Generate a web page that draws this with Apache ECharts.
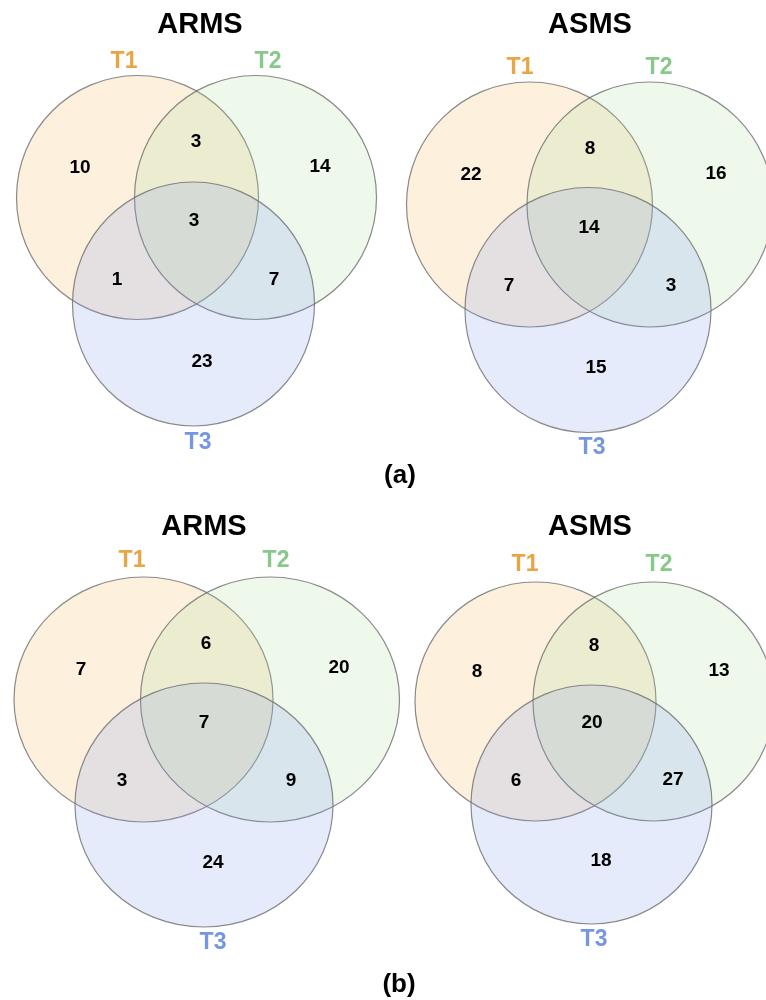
<!DOCTYPE html>
<html>
<head>
<meta charset="utf-8">
<script src="https://cdn.jsdelivr.net/npm/echarts@6/dist/echarts.min.js"></script>
<style>
  html, body { margin: 0; padding: 0; background: #ffffff; }
  #chart { width: 766px; height: 1000px; }
</style>
</head>
<body>
<div id="chart"></div>
<script>
// Sets and overlap regions (order of the count arrays below)
const setNames = ['T1', 'T2', 'T3'];
const regionKeys = ['T1', 'T2', 'T3', 'T1&T2', 'T1&T3', 'T2&T3', 'T1&T2&T3'];

// Panel titles and group tags
const panelTitles = ['ARMS', 'ASMS', 'ARMS', 'ASMS'];
const groupTags = ['(a)', '(b)'];

// Region counts, one array per panel
const armsA = [10, 14, 23, 3, 1, 7, 3];
const asmsA = [22, 16, 15, 8, 7, 3, 14];
const armsB = [7, 20, 24, 6, 3, 9, 7];
const asmsB = [8, 13, 18, 8, 6, 27, 20];
const panelCounts = [armsA, asmsA, armsB, asmsB];

// Geometry of each panel (canvas units: x 0..766, y 0..1000 downwards)
const layout = [
  {
    title: [200, 25],
    circles: [[137.5, 197.5, 121, 122], [255.5, 197.5, 121, 122], [193.5, 304, 121, 122]],
    setLabels: [[124, 62], [268, 62], [198, 443]],
    regionLabels: [[80, 168], [320, 167], [202, 362], [196, 142], [117, 280], [274, 280], [194, 221]]
  },
  {
    title: [590, 25],
    circles: [[529.5, 204.5, 123, 122.5], [650, 204.5, 123, 122.5], [588, 310, 123, 122.5]],
    setLabels: [[520, 68], [659, 68], [592, 448]],
    regionLabels: [[471, 175], [716, 174], [596, 368], [590, 149], [509, 286], [671, 286], [589, 228]]
  },
  {
    title: [204, 527],
    circles: [[143.5, 699.5, 129.5, 122.5], [270, 699.5, 129.5, 122.5], [204, 805, 129, 122]],
    setLabels: [[132, 561], [276, 561], [213, 943]],
    regionLabels: [[81, 670], [339, 668], [213, 863], [206, 644], [122, 781], [291, 781], [204, 723]]
  },
  {
    title: [590, 527],
    circles: [[535.5, 701.5, 120.5, 119.5], [653.5, 701.5, 120.5, 119.5], [591.5, 804.5, 120.5, 119.5]],
    setLabels: [[525, 565], [659, 565], [594, 940]],
    regionLabels: [[477, 672], [719, 671], [601, 861], [594, 646], [516, 781], [673, 780], [592, 723]]
  }
];
const tagPositions = [[400, 476], [399, 985]];

const setFill = ['rgba(245,185,90,0.2)', 'rgba(170,220,155,0.2)', 'rgba(130,155,240,0.2)'];
const setText = ['#E9A444', '#86C98A', '#7696E4'];
const FONT = '"Liberation Sans", Arial, Helvetica, sans-serif';

// Build series data from the arrays above
const circleData = [];
const countData = [];
const setLabelData = [];
const titleData = [];
layout.forEach((p, pi) => {
  p.circles.forEach((c, si) => circleData.push([c[0], c[1], c[2], c[3], si]));
  p.regionLabels.forEach((pos, ri) => countData.push([pos[0], pos[1], panelCounts[pi][ri], regionKeys[ri]]));
  p.setLabels.forEach((pos, si) => setLabelData.push([pos[0], pos[1], si, setNames[si]]));
  titleData.push([p.title[0], p.title[1], panelTitles[pi]]);
});
const tagData = groupTags.map((t, i) => [tagPositions[i][0], tagPositions[i][1], t]);

function textSeries(name, data, styleFn) {
  return {
    type: 'custom',
    name: name,
    coordinateSystem: 'cartesian2d',
    data: data,
    silent: true,
    z: 5,
    renderItem: function (params, api) {
      const pt = api.coord([api.value(0), api.value(1)]);
      const d = data[params.dataIndex];
      return {
        type: 'text',
        x: pt[0],
        y: pt[1],
        style: Object.assign({
          align: 'center',
          verticalAlign: 'middle',
          fontFamily: FONT,
          fontWeight: 'bold'
        }, styleFn(d))
      };
    }
  };
}

const chart = echarts.init(document.getElementById('chart'), null, { renderer: 'canvas' });
chart.setOption({
  animation: false,
  backgroundColor: '#ffffff',
  grid: { left: 0, right: 0, top: 0, bottom: 0 },
  xAxis: { type: 'value', min: 0, max: 766, show: false },
  yAxis: { type: 'value', min: 0, max: 1000, inverse: true, show: false },
  series: [
    {
      type: 'custom',
      name: 'sets',
      coordinateSystem: 'cartesian2d',
      data: circleData,
      silent: true,
      z: 2,
      renderItem: function (params, api) {
        const c = api.coord([api.value(0), api.value(1)]);
        const s = api.size([api.value(2), api.value(3)]);
        const si = api.value(4);
        return {
          type: 'ellipse',
          shape: { cx: c[0], cy: c[1], rx: s[0], ry: s[1] },
          style: { fill: setFill[si], stroke: 'rgba(110,110,110,0.8)', lineWidth: 1.2 }
        };
      }
    },
    textSeries('counts', countData, d => ({ text: String(d[2]), fontSize: 19, fill: '#000000' })),
    textSeries('setLabels', setLabelData, d => ({ text: d[3], fontSize: 23, fill: setText[d[2]] })),
    textSeries('titles', titleData, d => ({ text: d[2], fontSize: 29, fill: '#000000' })),
    textSeries('tags', tagData, d => ({ text: d[2], fontSize: 26, fill: '#000000' }))
  ]
});
</script>
</body>
</html>
